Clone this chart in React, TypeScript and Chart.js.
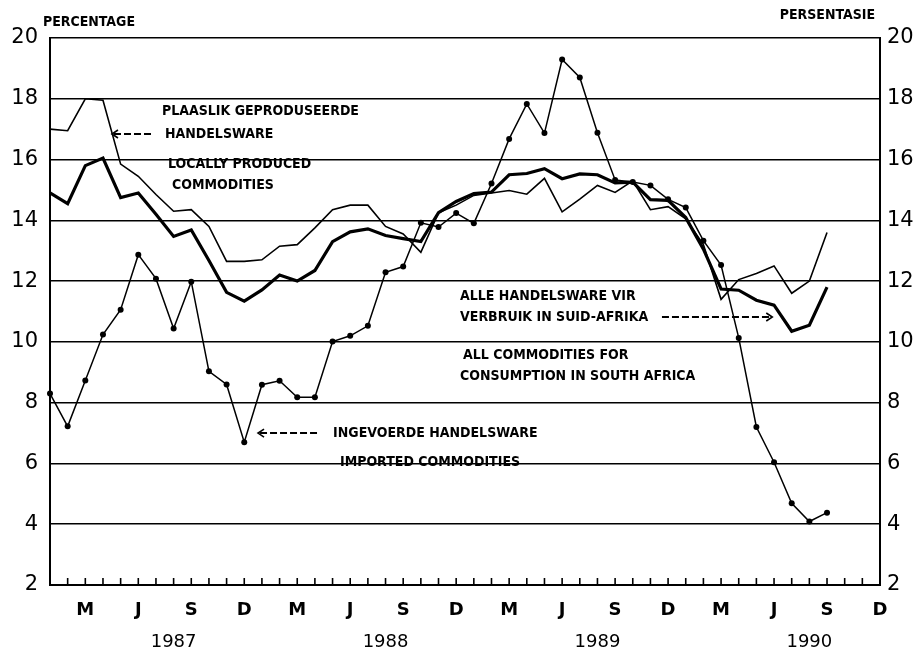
import React, { useEffect, useRef } from "react";
import { Chart, registerables } from "chart.js";

Chart.register(...registerables);

// ---------- data ----------
const years = ["1987", "1988", "1989", "1990"];
const monthLetters = ["J", "F", "M", "A", "M", "J", "J", "A", "S", "O", "N", "D"];
const labelledMonths = [2, 5, 8, 11]; // M J S D
const yearLabelMonth = 7;

const categories = years.flatMap((y) => monthLetters.map((_, i) => `${y}-${String(i + 1).padStart(2, "0")}`));

// Locally produced commodities (thin line)
const localProduced = [
  17.0, 16.95, 18.0, 17.95, 15.85, 15.45, 14.85, 14.3, 14.35, 13.8, 12.65, 12.65,
  12.7, 13.15, 13.2, 13.75, 14.35, 14.5, 14.5, 13.8, 13.55, 12.95, 14.25, 14.5,
  14.82, 14.9, 14.98, 14.86, 15.38, 14.28, 14.7, 15.15, 14.92, 15.3, 14.35, 14.45,
  14.05, 13.2, 11.4, 12.05, 12.25, 12.5, 11.6, 12.0, 13.6, null, null, null,
];

// All commodities for consumption in South Africa (thick line)
const allCommodities = [
  14.9, 14.55, 15.8, 16.05, 14.75, 14.9, 14.2, 13.47, 13.68, 12.68, 11.63, 11.34,
  11.71, 12.2, 12.0, 12.35, 13.3, 13.62, 13.72, 13.5, 13.4, 13.3, 14.25, 14.62,
  14.88, 14.93, 15.5, 15.54, 15.7, 15.37, 15.53, 15.5, 15.23, 15.26, 14.68, 14.66,
  14.09, 13.05, 11.74, 11.7, 11.37, 11.21, 10.35, 10.55, 11.8, null, null, null,
];

// Imported commodities (line with dots)
const imported = [
  8.3, 7.22, 8.73, 10.24, 11.06, 12.87, 12.08, 10.44, 11.98, 9.03, 8.6, 6.7,
  8.59, 8.72, 8.18, 8.18, 10.01, 10.2, 10.53, 12.29, 12.48, 13.92, 13.78, 14.24,
  13.9, 15.21, 16.68, 17.83, 16.87, 19.29, 18.7, 16.88, 15.33, 15.26, 15.15, 14.69,
  14.42, 13.33, 12.53, 10.13, 7.2, 6.04, 4.69, 4.09, 4.38, null, null, null,
];

const yMin = 2;
const yMax = 20;
const yStep = 2;

// annotations: text placed in data coordinates (category index, value)
type Note = { text: string; xi: number; yv: number; align?: CanvasTextAlign };
const notes: Note[] = [
  { text: "PERCENTAGE", xi: -0.4, yv: 20.53 },
  { text: "PERSENTASIE", xi: 46.72, yv: 20.76, align: "right" },
  { text: "PLAASLIK GEPRODUSEERDE", xi: 6.34, yv: 17.6 },
  { text: "HANDELSWARE", xi: 6.51, yv: 16.84 },
  { text: "LOCALLY PRODUCED", xi: 6.68, yv: 15.85 },
  { text: "COMMODITIES", xi: 6.91, yv: 15.16 },
  { text: "ALLE HANDELSWARE VIR", xi: 23.22, yv: 11.51 },
  { text: "VERBRUIK IN SUID-AFRIKA", xi: 23.22, yv: 10.82 },
  { text: "ALL COMMODITIES FOR", xi: 23.39, yv: 9.57 },
  { text: "CONSUMPTION IN SOUTH AFRICA", xi: 23.22, yv: 8.85 },
  { text: "INGEVOERDE HANDELSWARE", xi: 16.03, yv: 7.0 },
  { text: "IMPORTED COMMODITIES", xi: 16.42, yv: 6.05 },
];

type Arrow = { x1: number; x2: number; yv: number; head: "left" | "right" };
const arrows: Arrow[] = [
  { x1: 3.51, x2: 5.85, yv: 16.84, head: "left" },
  { x1: 34.54, x2: 40.9, yv: 10.82, head: "right" },
  { x1: 11.78, x2: 15.4, yv: 7.0, head: "left" },
];

const noteFont = 'bold 14px "DejaVu Sans Condensed", "DejaVu Sans", sans-serif';

const decorPlugin = {
  id: "decor",
  afterDatasetsDraw(chart: any) {
    const { ctx, chartArea } = chart;
    const x = chart.scales.x;
    const y = chart.scales.y;
    ctx.save();
    // inner monthly tick marks
    ctx.strokeStyle = "#000";
    ctx.lineWidth = 1.6;
    for (let i = 1; i < categories.length - 1; i++) {
      const px = x.getPixelForValue(i);
      ctx.beginPath();
      ctx.moveTo(px, chartArea.bottom);
      ctx.lineTo(px, chartArea.bottom - 7);
      ctx.stroke();
    }
    // annotation texts
    ctx.fillStyle = "#000";
    ctx.font = noteFont;
    ctx.textBaseline = "middle";
    for (const n of notes) {
      ctx.textAlign = n.align || "left";
      ctx.fillText(n.text, x.getPixelForValue(n.xi), y.getPixelForValue(n.yv));
    }
    // dashed arrows
    for (const a of arrows) {
      const px1 = x.getPixelForValue(a.x1);
      const px2 = x.getPixelForValue(a.x2);
      const py = y.getPixelForValue(a.yv);
      ctx.lineWidth = 2;
      ctx.setLineDash([7, 3]);
      ctx.beginPath();
      ctx.moveTo(px1 + 2, py);
      ctx.lineTo(px2 - 2, py);
      ctx.stroke();
      ctx.setLineDash([]);
      ctx.lineWidth = 1.6;
      ctx.beginPath();
      if (a.head === "left") {
        ctx.moveTo(px1 + 6, py - 4);
        ctx.lineTo(px1, py);
        ctx.lineTo(px1 + 6, py + 4);
      } else {
        ctx.moveTo(px2 - 6, py - 4);
        ctx.lineTo(px2, py);
        ctx.lineTo(px2 - 6, py + 4);
      }
      ctx.stroke();
    }
    ctx.restore();
  },
};

export default function App() {
  const ref = useRef<HTMLCanvasElement | null>(null);

  useEffect(() => {
    document.body.style.margin = "0";
    if (!ref.current) return;
    Chart.defaults.color = "#000";
    const yTicks = {
      font: { family: "DejaVu Sans", size: 21 },
      color: "#000",
      stepSize: yStep,
    };
    const chart = new Chart(ref.current, {
      type: "line",
      data: {
        labels: categories,
        datasets: [
          {
            label: "Locally produced commodities",
            data: localProduced,
            borderColor: "#000",
            borderWidth: 1.6,
            pointRadius: 0,
            tension: 0,
          },
          {
            label: "All commodities for consumption in South Africa",
            data: allCommodities,
            borderColor: "#000",
            borderWidth: 3.2,
            pointRadius: 0,
            tension: 0,
          },
          {
            label: "Imported commodities",
            data: imported,
            borderColor: "#000",
            borderWidth: 1.5,
            pointRadius: 3,
            pointBackgroundColor: "#000",
            pointBorderColor: "#000",
            pointBorderWidth: 0,
            tension: 0,
          },
        ],
      },
      options: {
        animation: false,
        responsive: false,
        maintainAspectRatio: false,
        layout: { padding: { top: 38, left: 0, right: 0, bottom: 0 } },
        plugins: { legend: { display: false }, tooltip: { enabled: false } },
        scales: {
          x: {
            type: "category",
            offset: false,
            position: "bottom",
            grid: { display: false, drawTicks: false },
            border: { display: true, color: "#000", width: 2 },
            ticks: {
              autoSkip: false,
              maxRotation: 0,
              padding: 15,
              font: { family: "DejaVu Sans", size: 18, weight: "bold" },
              callback: (_v: any, i: number) =>
                labelledMonths.includes(i % 12) ? monthLetters[i % 12] : "",
            },
            afterFit: (s: any) => {
              s.height = 40;
            },
          },
          x2: {
            type: "category",
            offset: false,
            position: "bottom",
            grid: { display: false, drawTicks: false },
            border: { display: false },
            ticks: {
              autoSkip: false,
              maxRotation: 0,
              padding: 7,
              font: { family: "DejaVu Sans", size: 18 },
              callback: (_v: any, i: number) =>
                i % 12 === yearLabelMonth ? years[Math.floor(i / 12)] : "",
            },
            afterFit: (s: any) => {
              s.height = 29;
            },
          },
          y: {
            position: "left",
            min: yMin,
            max: yMax,
            grid: { color: "#000", lineWidth: 1.6, drawTicks: false },
            border: { display: true, color: "#000", width: 2 },
            ticks: { ...yTicks, padding: 12 },
            afterFit: (s: any) => {
              s.width = 50;
            },
          },
          y2: {
            position: "right",
            min: yMin,
            max: yMax,
            grid: { display: false, drawTicks: false },
            border: { display: true, color: "#000", width: 2 },
            ticks: { ...yTicks, padding: 7 },
            afterFit: (s: any) => {
              s.width = 40;
            },
          },
        },
      },
      plugins: [decorPlugin],
    });
    return () => chart.destroy();
  }, []);

  return <canvas ref={ref} width={920} height={654} style={{ display: "block" }} />;
}
